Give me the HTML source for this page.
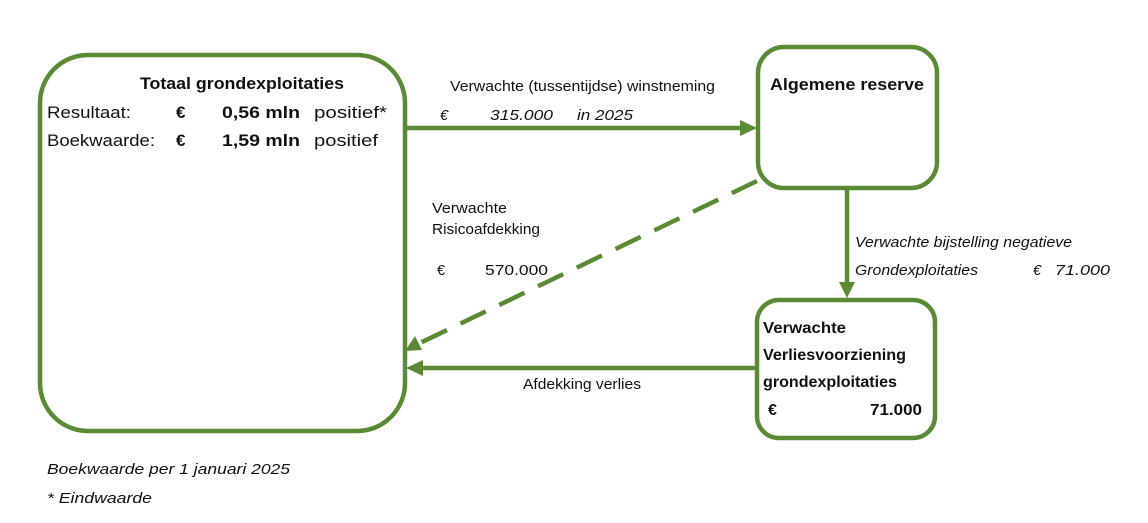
<!DOCTYPE html>
<html><head><style>body{margin:0;background:#fff}svg{display:block}text{font-family:"Liberation Sans",sans-serif;fill:#111}</style></head>
<body>
<svg width="1148" height="523" viewBox="0 0 1148 523" xmlns="http://www.w3.org/2000/svg">
<g fill="none" stroke="#5b8a35" stroke-width="4.5">
<rect x="40" y="55" width="365" height="376" rx="48"/>
<rect x="758" y="47" width="179" height="141" rx="26"/>
<rect x="757" y="300" width="178" height="138" rx="22"/>
<line x1="407" y1="128" x2="742" y2="128"/>
<line x1="847" y1="188" x2="847" y2="285"/>
<line x1="757" y1="368" x2="422" y2="368"/>
<line x1="757" y1="181" x2="420" y2="343" stroke-dasharray="28,15"/>
</g>
<g fill="#5b8a35">
<polygon points="757,128 740,120 740,136"/>
<polygon points="847,298 839,282 855,282"/>
<polygon points="406,368 423,360 423,376"/>
<polygon points="405,351 415,336 422,350"/>
</g>
<g lengthAdjust="spacingAndGlyphs">
<text x="140" y="89" font-size="17" font-weight="bold" textLength="204" lengthAdjust="spacingAndGlyphs">Totaal grondexploitaties</text>
<g font-size="17">
<text x="47" y="118" textLength="84" lengthAdjust="spacingAndGlyphs">Resultaat:</text><text x="176" y="118" font-weight="bold">€</text><text x="222" y="118" font-weight="bold" textLength="78" lengthAdjust="spacingAndGlyphs">0,56 mln</text><text x="314" y="118" textLength="73" lengthAdjust="spacingAndGlyphs">positief*</text>
<text x="47" y="146" textLength="108" lengthAdjust="spacingAndGlyphs">Boekwaarde:</text><text x="176" y="146" font-weight="bold">€</text><text x="222" y="146" font-weight="bold" textLength="78" lengthAdjust="spacingAndGlyphs">1,59 mln</text><text x="314" y="146" textLength="64" lengthAdjust="spacingAndGlyphs">positief</text>
</g>
<text x="770" y="90" font-size="17" font-weight="bold" textLength="154" lengthAdjust="spacingAndGlyphs">Algemene reserve</text>
<g font-size="16" font-weight="bold">
<text x="763" y="333" textLength="83" lengthAdjust="spacingAndGlyphs">Verwachte</text>
<text x="763" y="360" textLength="143" lengthAdjust="spacingAndGlyphs">Verliesvoorziening</text>
<text x="763" y="387" textLength="134" lengthAdjust="spacingAndGlyphs">grondexploitaties</text>
<text x="768" y="415">€</text><text x="870" y="415" textLength="52" lengthAdjust="spacingAndGlyphs">71.000</text>
</g>
<g font-size="14.5">
<text x="450" y="91" textLength="265" lengthAdjust="spacingAndGlyphs">Verwachte (tussentijdse) winstneming</text>
<text x="440" y="120" font-style="italic">€</text><text x="490" y="120" font-style="italic" textLength="63" lengthAdjust="spacingAndGlyphs">315.000</text><text x="577" y="120" font-style="italic" textLength="56" lengthAdjust="spacingAndGlyphs">in 2025</text>
<text x="432" y="213" textLength="75" lengthAdjust="spacingAndGlyphs">Verwachte</text>
<text x="432" y="234" textLength="108" lengthAdjust="spacingAndGlyphs">Risicoafdekking</text>
<text x="437" y="275">€</text><text x="485" y="275" textLength="63" lengthAdjust="spacingAndGlyphs">570.000</text>
<text x="523" y="389" textLength="118" lengthAdjust="spacingAndGlyphs">Afdekking verlies</text>
<text x="855" y="247" font-style="italic" textLength="217" lengthAdjust="spacingAndGlyphs">Verwachte bijstelling negatieve</text>
<text x="855" y="275" font-style="italic" textLength="123" lengthAdjust="spacingAndGlyphs">Grondexploitaties</text><text x="1033" y="275" font-style="italic">€</text><text x="1055" y="275" font-style="italic" textLength="55" lengthAdjust="spacingAndGlyphs">71.000</text>
<text x="47" y="474" font-style="italic" textLength="243" lengthAdjust="spacingAndGlyphs">Boekwaarde per 1 januari 2025</text>
<text x="47" y="503" font-style="italic" textLength="105" lengthAdjust="spacingAndGlyphs">* Eindwaarde</text>
</g>
</g>
</svg>
</body></html>
